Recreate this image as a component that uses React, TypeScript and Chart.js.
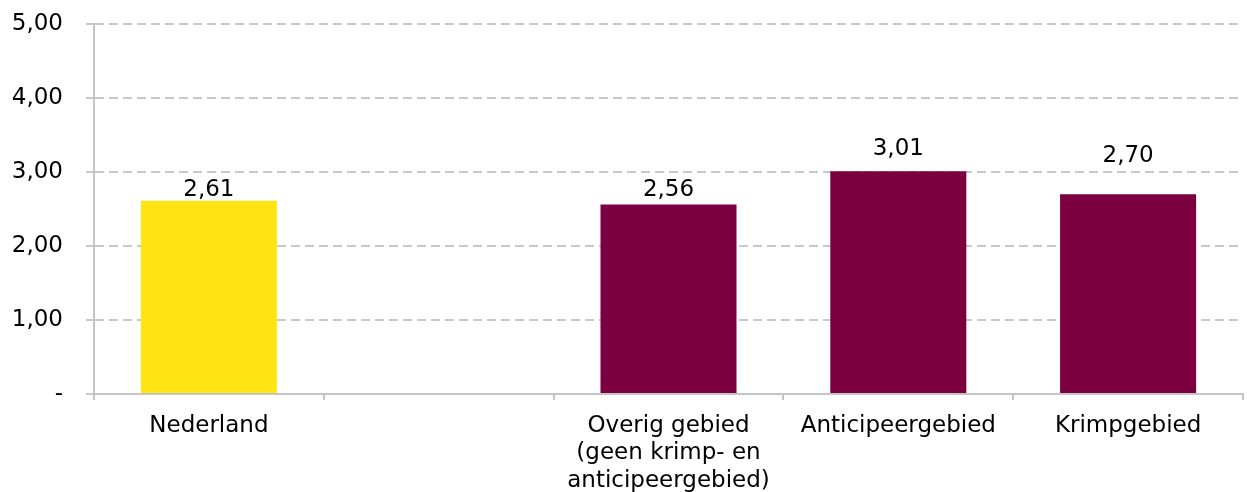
import React, { useEffect, useRef } from "react";
import { Chart, registerables } from "chart.js";

Chart.register(...registerables);

const categories: (string | string[])[] = [
  "Nederland",
  "",
  ["Overig gebied", "(geen krimp- en", "anticipeergebied)"],
  "Anticipeergebied",
  "Krimpgebied",
];
const values: (number | null)[] = [2.61, null, 2.56, 3.01, 2.7];
const barColors: string[] = ["#FFE312", "#7C0040", "#7C0040", "#7C0040", "#7C0040"];
const yTicks: number[] = [0, 1, 2, 3, 4, 5];

const FONT = "'DejaVu Sans', Verdana, sans-serif";
const FS = 23;
const fmt = (v: number) => (v === 0 ? "-" : v.toFixed(2).replace(".", ","));

const labelPlugin = {
  id: "valueLabels",
  afterDatasetsDraw(chart: any) {
    const ctx = chart.ctx;
    const meta = chart.getDatasetMeta(0);
    const lifts = [5, 0, 9, 16, 32];
    ctx.save();
    ctx.font = `${FS}px ${FONT}`;
    ctx.fillStyle = "#000";
    ctx.textAlign = "center";
    ctx.textBaseline = "alphabetic";
    meta.data.forEach((el: any, i: number) => {
      const v = values[i];
      if (v == null) return;
      ctx.fillText(fmt(v), el.x, el.y - lifts[i]);
    });
    ctx.restore();
  },
};

export default function App() {
  const ref = useRef<HTMLCanvasElement | null>(null);
  useEffect(() => {
    document.body.style.margin = "0";
    const chart = new Chart(ref.current!, {
      type: "bar",
      data: {
        labels: categories,
        datasets: [
          {
            data: values,
            backgroundColor: barColors,
            barPercentage: 0.592,
            categoryPercentage: 1,
          },
        ],
      },
      options: {
        animation: false,
        responsive: false,
        maintainAspectRatio: false,
        layout: { padding: { top: 24, right: 4, left: 0, bottom: 0 } },
        plugins: { legend: { display: false }, tooltip: { enabled: false } },
        scales: {
          x: {
            grid: {
              offset: true,
              drawOnChartArea: false,
              drawTicks: true,
              tickLength: 6,
              color: "#c4c4c4",
              lineWidth: 2,
            },
            border: { color: "#c4c4c4", width: 2 },
            ticks: {
              color: "#000",
              font: { family: FONT, size: FS, lineHeight: 1.2 },
              padding: 12,
              maxRotation: 0,
              autoSkip: false,
            },
            afterFit: (s: any) => {
              s.height = 98;
              s.paddingLeft = 0;
              s.paddingRight = 0;
            },
          },
          y: {
            min: 0,
            max: 5,
            afterBuildTicks: (s: any) => {
              s.ticks = yTicks.map((v) => ({ value: v }));
            },
            grid: {
              color: "#c8c8c8",
              lineWidth: 2,
              tickLength: 8,
            },
            border: { color: "#c4c4c4", width: 2, dash: [9, 5] },
            ticks: {
              color: "#000",
              font: { family: FONT, size: FS },
              padding: 23,
              callback: (v: any) => fmt(Number(v)),
            },
            afterFit: (s: any) => {
              s.width = 94;
              s.paddingTop = 0;
              s.paddingBottom = 0;
            },
          },
        },
      },
      plugins: [labelPlugin],
    });
    return () => chart.destroy();
  }, []);
  return (
    <div style={{ width: 1247, height: 492 }}>
      <canvas ref={ref} width={1247} height={492} style={{ display: "block" }} />
    </div>
  );
}
